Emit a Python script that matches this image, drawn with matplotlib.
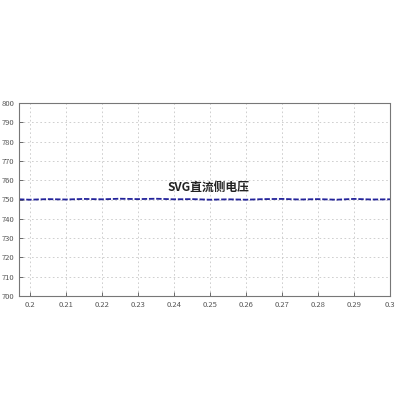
import matplotlib
matplotlib.use("Agg")
import matplotlib.pyplot as plt

plt.rcParams['font.family'] = ['Noto Sans CJK SC', 'DejaVu Sans']

# SVG DC-side voltage (small ripple around 750 V)
time_s = [0.197, 0.2, 0.205, 0.21, 0.215, 0.22, 0.225, 0.23, 0.235, 0.24,
          0.245, 0.25, 0.255, 0.26, 0.265, 0.27, 0.275, 0.28, 0.285, 0.29,
          0.295, 0.3]
voltage = [750.1, 749.9, 750.2, 750.0, 750.3, 750.1, 750.4, 750.2, 750.4, 750.1,
           750.2, 749.9, 750.1, 749.9, 750.2, 750.3, 750.0, 750.2, 749.9, 750.3,
           750.0, 750.1]
xticks = [0.2, 0.21, 0.22, 0.23, 0.24, 0.25, 0.26, 0.27, 0.28, 0.29, 0.3]
xtick_labels = ['0.2', '0.21', '0.22', '0.23', '0.24', '0.25', '0.26', '0.27', '0.28', '0.29', '0.3']
yticks = [700, 710, 720, 730, 740, 750, 760, 770, 780, 790, 800]
title = 'SVG直流侧电压'

fig = plt.figure(figsize=(4, 4), dpi=100)
ax = fig.add_axes([0.0475, 0.26, 0.9275, 0.4825])

ax.plot(time_s, voltage, color='#23239a', lw=1.3, ls=(0, (3, 1)))

ax.set_xlim(0.197, 0.3)
ax.set_ylim(700, 800)
ax.set_xticks(xticks)
ax.set_xticklabels(xtick_labels)
ax.set_yticks(yticks)
ax.tick_params(direction='in', labelsize=5.5, colors='#555555', length=3, width=0.6)
ax.grid(True, ls=(0, (2, 3)), color='#c8c8c8', lw=0.6)
for s in ax.spines.values():
    s.set_color('#777777')
    s.set_linestyle((0, (2, 1)))
    s.set_linewidth(0.8)

ax.text(0.2495, 756.5, title, ha='center', va='center', fontsize=8.5,
        fontweight='bold', color='#222222')

fig.savefig('out.png', dpi=100)
